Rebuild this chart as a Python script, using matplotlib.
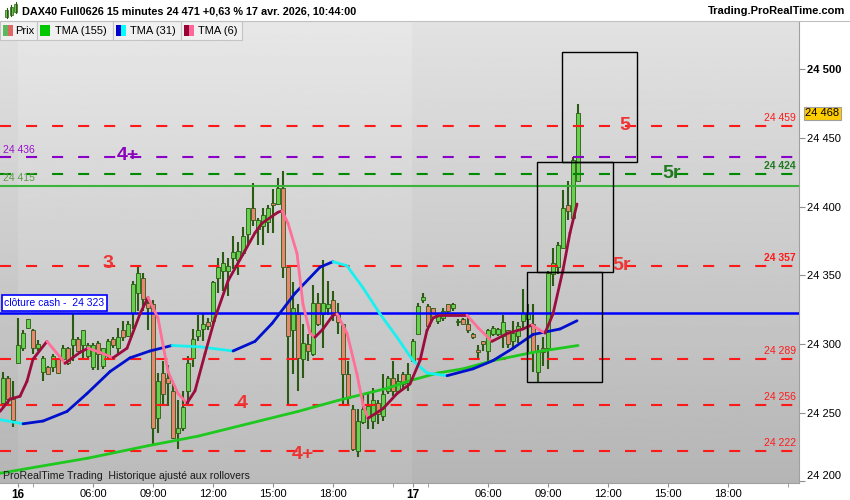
import matplotlib
matplotlib.use("Agg")
import numpy as np
import matplotlib.pyplot as plt
from matplotlib.patches import Rectangle
from matplotlib.collections import LineCollection
import matplotlib.transforms as mtransforms

plt.rcParams['font.family'] = ['Liberation Sans', 'DejaVu Sans']

# 15 minute bars, index 0 = 15 Apr 21:15, day 16 starts at bar 3, day 17 at bar 82
opens = [24257, 24275, 24260, 24286, 24297, 24312, 24310, 24297, 24280, 24283,
         24283, 24289, 24289, 24297, 24299, 24304, 24299, 24291, 24283, 24301,
         24284, 24291, 24304, 24297, 24310, 24306, 24323, 24337, 24348, 24330,
         24329, 24246, 24279, 24275, 24266, 24235, 24239, 24266, 24290, 24306,
         24311, 24316, 24317, 24348, 24353, 24353, 24363, 24361, 24366, 24380,
         24399, 24384, 24386, 24389, 24403, 24402, 24414, 24356, 24310, 24322,
         24289, 24300, 24293, 24330, 24322, 24326, 24332, 24322, 24315, 24278,
         24253, 24222, 24243, 24248, 24244, 24257, 24248, 24266, 24275, 24266,
         24278, 24272, 24288, 24307, 24332, 24328, 24326, 24317, 24319, 24329,
         24326, 24316, 24318, 24315, 24307, 24296, 24302, 24295, 24307, 24307,
         24306, 24310, 24302, 24306, 24317, 24318, 24315, 24280, 24297, 24297,
         24351, 24356, 24370, 24401, 24392, 24419]
highs = [24280, 24277, 24273, 24319, 24310, 24318, 24311, 24303, 24291, 24284,
         24293, 24290, 24299, 24298, 24322, 24305, 24310, 24301, 24301, 24302,
         24297, 24304, 24305, 24312, 24317, 24317, 24346, 24356, 24352, 24334,
         24332, 24279, 24288, 24285, 24273, 24259, 24266, 24291, 24311, 24321,
         24322, 24319, 24346, 24363, 24367, 24363, 24379, 24374, 24385, 24399,
         24417, 24392, 24399, 24401, 24413, 24421, 24426, 24356, 24345, 24329,
         24315, 24307, 24343, 24337, 24361, 24346, 24339, 24330, 24315, 24288,
         24256, 24253, 24264, 24264, 24268, 24259, 24278, 24277, 24288, 24278,
         24280, 24286, 24304, 24330, 24337, 24329, 24326, 24323, 24326, 24329,
         24330, 24318, 24319, 24321, 24308, 24299, 24302, 24311, 24313, 24312,
         24321, 24310, 24317, 24316, 24340, 24329, 24329, 24299, 24305, 24353,
         24370, 24374, 24412, 24419, 24436, 24475]
lows = [24253, 24255, 24240, 24286, 24295, 24311, 24293, 24295, 24273, 24278,
        24280, 24278, 24288, 24285, 24288, 24294, 24290, 24289, 24281, 24281,
        24282, 24289, 24297, 24293, 24302, 24305, 24311, 24324, 24324, 24310,
        24227, 24235, 24255, 24255, 24231, 24224, 24237, 24256, 24283, 24302,
        24302, 24310, 24315, 24337, 24339, 24335, 24355, 24350, 24364, 24372,
        24386, 24372, 24372, 24381, 24381, 24401, 24348, 24255, 24278, 24266,
        24275, 24288, 24291, 24313, 24297, 24321, 24317, 24307, 24255, 24256,
        24222, 24218, 24242, 24238, 24238, 24242, 24244, 24264, 24262, 24264,
        24268, 24266, 24288, 24307, 24330, 24313, 24319, 24315, 24317, 24323,
        24324, 24313, 24315, 24308, 24304, 24289, 24295, 24286, 24306, 24306,
        24297, 24297, 24297, 24301, 24310, 24294, 24280, 24272, 24284, 24282,
        24342, 24351, 24370, 24390, 24390, 24419]
closes = [24275, 24260, 24245, 24299, 24308, 24318, 24297, 24300, 24290, 24278,
          24291, 24279, 24297, 24286, 24304, 24295, 24310, 24299, 24299, 24293,
          24297, 24302, 24299, 24305, 24305, 24315, 24344, 24352, 24333, 24326,
          24239, 24273, 24264, 24272, 24232, 24239, 24254, 24286, 24304, 24310,
          24315, 24313, 24345, 24356, 24359, 24357, 24367, 24368, 24379, 24399,
          24390, 24390, 24394, 24399, 24401, 24414, 24356, 24306, 24326, 24290,
          24301, 24295, 24330, 24315, 24330, 24329, 24322, 24316, 24278, 24261,
          24224, 24244, 24253, 24255, 24259, 24249, 24264, 24275, 24266, 24273,
          24271, 24278, 24302, 24328, 24334, 24313, 24320, 24321, 24324, 24324,
          24329, 24317, 24315, 24310, 24305, 24294, 24300, 24310, 24312, 24311,
          24316, 24300, 24308, 24313, 24323, 24322, 24294, 24295, 24294, 24352,
          24359, 24372, 24399, 24397, 24434, 24468]

# moving averages (bar index, value)
tma155_idx = [-0.6, 17, 29, 39, 59, 67, 77, 81, 87, 92, 98, 106, 115]
tma155_val = [24206, 24217, 24226, 24233, 24251, 24259, 24268, 24273, 24279,
              24282, 24288, 24294, 24299]
tma31_idx = [-0.6, 4, 8, 12.8, 16.8, 21.4, 25.4, 29.4, 33.8, 39.4, 46, 50.4,
             53.8, 58.4, 63.4, 66, 68.8, 72, 75.4, 78.8, 82, 84.8, 88.8, 94, 98,
             102, 106, 111.4, 114.8]
tma31_val = [24245, 24242, 24244, 24251, 24264, 24280, 24290, 24295, 24299,
             24298, 24295, 24302, 24315, 24337, 24356, 24360, 24357, 24341,
             24322, 24305, 24288, 24279, 24277, 24282, 24288, 24297, 24307,
             24311, 24317]
tma6_idx = [-0.6, 1.4, 3.4, 4.8, 6, 8.8, 12, 12.4, 15.4, 17, 19.4, 22, 24.8,
            27.4, 29, 31, 33, 35, 36.8, 38.4, 40.4, 42.4, 45, 48.4, 50.4, 51.8,
            55, 55.8, 57, 58.8, 60, 61.4, 62.4, 64, 66, 66.8, 68.8, 70.8, 72, 73,
            76, 78.8, 81.4, 83.4, 84.8, 86, 87.4, 92.8, 95, 97.8, 101, 104, 105.8,
            107, 108.4, 110, 112, 113.4, 114.8]
tma6_val = [24251, 24260, 24262, 24273, 24289, 24302, 24288, 24286, 24294,
            24297, 24294, 24290, 24297, 24322, 24334, 24319, 24280, 24264,
            24257, 24266, 24293, 24319, 24346, 24368, 24381, 24388, 24396,
            24397, 24388, 24366, 24329, 24308, 24305, 24311, 24321, 24322,
            24308, 24278, 24256, 24246, 24253, 24264, 24271, 24288, 24310,
            24319, 24321, 24321, 24312, 24302, 24308, 24311, 24314, 24311,
            24308, 24322, 24354, 24381, 24402]

# drawn levels
red_levels = [24459, 24357, 24289, 24256, 24222]
purple_level = 24436
green_dash_level = 24424
green_level = 24415
cash_close = 24323

# projection boxes
box_i0 = [111.8, 106.8, 104.8]
box_i1 = [126.8, 122.0, 119.8]
box_lo = [24432.5, 24352.4, 24272.3]
box_hi = [24512.6, 24432.5, 24352.4]

tick_pos = [3, 18, 30, 42, 54, 66, 82, 97, 109, 121, 133, 145]
tick_lab = ['16', '06:00', '09:00', '12:00', '15:00', '18:00',
            '17', '06:00', '09:00', '12:00', '15:00', '18:00']
minor_pos = [6, 78, 85, 157]
day_breaks = [2.9, 81.8]

WICK = '#2b5a12'
UP = '#66d14f'
DN = '#e8866f'
RED = '#ff1a1a'

fig = plt.figure(figsize=(8.5, 5), dpi=100)
fig.patch.set_facecolor('white')
ax = fig.add_axes([0, 17 / 500, 799 / 850, 462 / 500])
x0, x1 = -0.6, 159.2
y0, y1 = 24198.9, 24535.2
ax.set_xlim(x0, x1)
ax.set_ylim(y0, y1)

# background: vertical gradient, day 16 slightly lighter
grad = np.linspace(0.885, 0.71, 200).reshape(-1, 1)
bands = [(x0, day_breaks[0], 0.0), (day_breaks[0], day_breaks[1], 0.022),
         (day_breaks[1], x1, 0.0)]
for a, b, off in bands:
    ax.imshow(grad + off, cmap='gray', vmin=0, vmax=1, aspect='auto',
              extent=(a, b, y0, y1), zorder=0, interpolation='bilinear')

# candles
for i in range(len(closes)):
    o, h, l, c = opens[i], highs[i], lows[i], closes[i]
    ax.vlines(i, l, h, color=WICK, lw=1.5, zorder=3)
    lo, hi = min(o, c), max(o, c)
    ax.add_patch(Rectangle((i - 0.33, lo), 0.66, max(hi - lo, 0.7),
                           fc=UP if c >= o else DN, ec=WICK, lw=0.6, zorder=4))

# horizontal levels
xe = 158
dash = dict(lw=1.5, dashes=(5.3, 7.2), zorder=5)
for lv in red_levels:
    ax.plot([x0, xe], [lv, lv], color=RED, **dash)
ax.plot([x0, xe], [purple_level] * 2, color='#8a00c8', **dash)
ax.plot([x0, xe], [green_dash_level] * 2, color='#008a00', **dash)
ax.plot([x0, x1], [green_level] * 2, color='#3cb43c', lw=1.5, zorder=5)
ax.plot([x0, x1], [cash_close] * 2, color='#0000ff', lw=1.8, zorder=5)

# moving averages, coloured by slope
def ma(idx, val, up, dn, lw=2.0):
    pts = np.column_stack([idx, val])
    segs = np.stack([pts[:-1], pts[1:]], axis=1)
    cols = [up if val[k + 1] >= val[k] else dn for k in range(len(val) - 1)]
    ax.add_collection(LineCollection(segs, colors=cols, linewidths=lw,
                                     zorder=7, capstyle='round',
                                     joinstyle='round'))

ma(tma155_idx, tma155_val, '#1ec81e', '#1ec81e')
ma(tma31_idx, tma31_val, '#0010cc', '#19f0f0')
ma(tma6_idx, tma6_val, '#9c0d3f', '#ff6f98')

# boxes
for a, b, lo, hi in zip(box_i0, box_i1, box_lo, box_hi):
    ax.add_patch(Rectangle((a, lo), b - a, hi - lo, fill=False, ec='black',
                           lw=1.0, zorder=8))

# level labels on the right
def rlab(lv, color, bold=False):
    ax.annotate(f"{lv:,}".replace(',', ' '), (158.6, lv), xytext=(0, 2),
                textcoords='offset points', ha='right', va='bottom',
                fontsize=7.5, color=color,
                fontweight='bold' if bold else 'normal', zorder=9)

rlab(24459, RED)
rlab(24424, '#1f7a1f', True)
rlab(24357, RED, True)
rlab(24289, RED)
rlab(24256, RED)
rlab(24222, RED)

ax.annotate("24 436", (x0, purple_level), xytext=(2, 2), textcoords='offset points',
            ha='left', va='bottom', fontsize=7.5, color='#9a10d0', zorder=9)
ax.annotate("24 415", (x0, green_level), xytext=(2, 2), textcoords='offset points',
            ha='left', va='bottom', fontsize=7.5, color='#5a9e4a', zorder=9)
ax.annotate("clôture cash -  24 323", (x0, cash_close), xytext=(3, 3.2),
            textcoords='offset points', ha='left', va='bottom', fontsize=7.5,
            color='#0000ee', zorder=9,
            bbox=dict(boxstyle='square,pad=0.25', fc='white', ec='#0000ff', lw=1.2))

# wave labels
big = dict(fontsize=14, fontweight='bold', ha='center', va='center', zorder=9)
ax.text(124.4, 24459, '5', color='#ee3535', **big)
ax.text(25, 24437, '4+', color='#8a00b8', **big)
ax.text(133.8, 24424, '5r', color='#1f7a1f', **big)
ax.text(21, 24359, '3', color='#ee3535', **big)
ax.text(123.8, 24357, '5r', color='#ee3535', **big)
ax.text(47.8, 24257, '4', color='#ee3535', **big)
ax.text(60, 24220, '4+', color='#ee3535', **big)

ax.text(3 / 799, 7 / 462, "ProRealTime Trading  Historique ajusté aux rollovers",
        transform=ax.transAxes, fontsize=7.6, color='#1a1a1a', va='center',
        ha='left', zorder=9)

# axes decoration
for s in ['top', 'left']:
    ax.spines[s].set_visible(False)
ax.spines['right'].set_color('#a0a0a0')
ax.spines['bottom'].set_color('#a0a0a0')
ax.yaxis.tick_right()
yt = list(range(24200, 24501, 50))
ax.set_yticks(yt)
ax.set_yticklabels([f"{v:,}".replace(',', ' ') for v in yt], fontsize=8)
ax.tick_params(axis='y', length=4, color='#909090', pad=2)
for t in ax.get_yticklabels():
    if t.get_text() == '24 500':
        t.set_fontweight('bold')
    if t.get_text() == '24 200':
        t.set_verticalalignment('bottom')
ax.set_xticks(tick_pos)
ax.set_xticklabels(tick_lab, fontsize=8)
ax.set_xticks(minor_pos, minor=True)
ax.tick_params(axis='x', which='both', length=3, color='#909090', pad=1)
for t in ax.get_xticklabels():
    if t.get_text() in ('16', '17'):
        t.set_fontweight('bold')
        t.set_fontsize(8.5)

# current price tag
tr = mtransforms.blended_transform_factory(ax.transAxes, ax.transData)
ax.text(1.008, closes[-1], f"{closes[-1]:,}".replace(',', ' '), transform=tr,
        fontsize=8, va='center', ha='left', clip_on=False, zorder=10,
        bbox=dict(boxstyle='square,pad=0.15', fc='#ffcc00', ec='#a0a0a0', lw=0.8))

# header
fig.patches.append(Rectangle((0, 1 - 20.5 / 500), 1, 20.5 / 500, transform=fig.transFigure,
                             fc='white', ec='none', zorder=1))
fig.lines.append(plt.Line2D([0, 1], [1 - 20.5 / 500] * 2, transform=fig.transFigure,
                            color='#c0c0c0', lw=0.8))
fig.text(22 / 850, 1 - 11 / 500,
         "DAX40 Full0626 15 minutes 24 471 +0,63 % 17 avr. 2026, 10:44:00",
         fontsize=7.8, fontweight='bold', va='center', ha='left')
fig.text(845 / 850, 1 - 11 / 500, "Trading.ProRealTime.com", fontsize=8,
         fontweight='bold', va='center', ha='right')
for cx, top, bot in [(6.5, 10, 17), (11, 7, 15), (15.5, 4, 12)]:
    fig.lines.append(plt.Line2D([cx / 850] * 2, [1 - (top - 2) / 500, 1 - (bot + 1) / 500],
                                transform=fig.transFigure, color=WICK, lw=0.8))
    fig.patches.append(Rectangle((cx / 850 - 1.5 / 850, 1 - bot / 500), 3 / 850,
                                 (bot - top) / 500, transform=fig.transFigure,
                                 fc=UP, ec=WICK, lw=0.5))

# legend tabs
tabs = [(0, 37, 'Prix', ('#5cb85c', '#e06666'), 15),
        (37, 113, 'TMA (155)', ('#00c800', '#00c800'), 55),
        (113, 181, 'TMA (31)', ('#0000cc', '#00ffff'), 130),
        (181, 242, 'TMA (6)', ('#990033', '#ff6699'), 198)]
for a, b, lab, (c1, c2), tx in tabs:
    fig.patches.append(Rectangle((a / 850, 1 - 40 / 500), (b - a) / 850, 19 / 500,
                                 transform=fig.transFigure, fc='#f0f0f0',
                                 ec='#c4c4c4', lw=0.8))
    fig.patches.append(Rectangle(((a + 3) / 850, 1 - 36 / 500), 5 / 850, 11 / 500,
                                 transform=fig.transFigure, fc=c1, ec='none'))
    fig.patches.append(Rectangle(((a + 8) / 850, 1 - 36 / 500), 5 / 850, 11 / 500,
                                 transform=fig.transFigure, fc=c2, ec='none'))
    fig.text(tx / 850, 1 - 30.5 / 500, lab, fontsize=8, va='center', ha='left')

fig.savefig('out.png', dpi=100)
